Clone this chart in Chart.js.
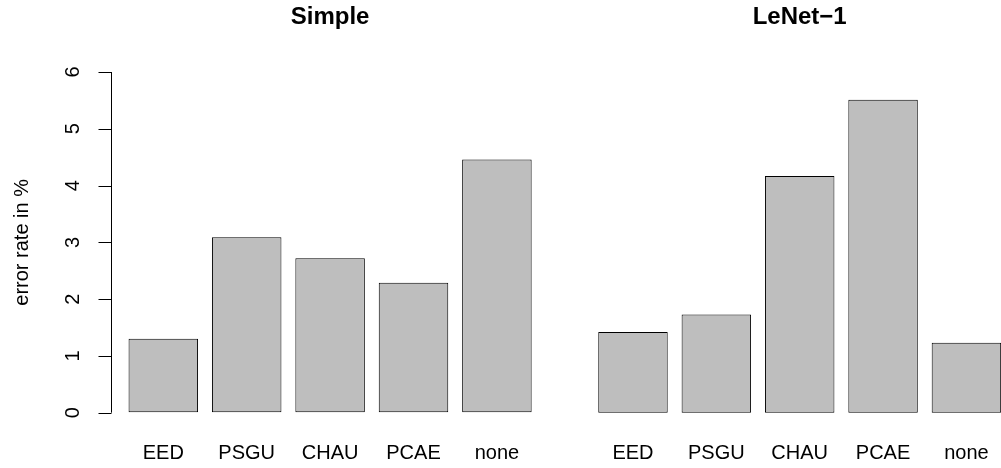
<!DOCTYPE html>
<html>
<head>
<meta charset="utf-8">
<script src="https://cdn.jsdelivr.net/npm/chart.js@4"></script>
<style>
    html, body { margin: 0; padding: 0; background: #fff; overflow: hidden; }
    #wrap { position: relative; width: 1001px; height: 468px; overflow: hidden; }
    canvas { position: absolute; top: 0; }
    #simpleChart { left: 0; }
    #lenetChart { left: 560px; }
</style>
</head>
<body>
<div id="wrap">
    <canvas id="simpleChart" width="560" height="468"></canvas>
    <canvas id="lenetChart" width="470" height="468"></canvas>
</div>
<script>
// data
const methods = ['EED', 'PSGU', 'CHAU', 'PCAE', 'none'];
const simpleErr = [1.30, 3.09, 2.72, 2.29, 4.46];
const lenetErr = [1.42, 1.73, 4.17, 5.51, 1.23];
const yTicks = [0, 1, 2, 3, 4, 5, 6];
const yMin = -0.24;
const yMax = 6.24;

Chart.defaults.font.family = '"Liberation Sans", Arial, Helvetica, sans-serif';
Chart.defaults.color = '#000';

// R style axis: line only from first to last tick, ticks pointing outwards
const rAxis = {
    id: 'rAxis',
    afterDraw(chart) {
        const y = chart.scales.y;
        const ctx = chart.ctx;
        const x = 111.5;
        ctx.save();
        ctx.strokeStyle = '#000';
        ctx.lineWidth = 1;
        ctx.beginPath();
        ctx.moveTo(x, y.getPixelForValue(yTicks[0]));
        ctx.lineTo(x, y.getPixelForValue(yTicks[yTicks.length - 1]));
        yTicks.forEach(v => {
            const py = Math.round(y.getPixelForValue(v)) + 0.5;
            ctx.moveTo(x, py);
            ctx.lineTo(x - 13, py);
        });
        ctx.stroke();
        ctx.restore();
    }
};

function makeChart(canvasId, title, values, withAxis) {
    const yScale = {
        min: yMin,
        max: yMax,
        display: withAxis
    };
    if (withAxis) {
        Object.assign(yScale, {
            border: { display: false },
            grid: { drawOnChartArea: false, drawTicks: true, tickLength: 36, color: 'rgba(0,0,0,0)' },
            ticks: { font: { size: 20 }, color: '#000', minRotation: 90, maxRotation: 90, crossAlign: 'center', padding: 6.7 },
            title: { display: true, text: 'error rate in %', font: { size: 20 }, color: '#000', padding: { top: 10, bottom: 0 } },
            afterBuildTicks: s => { s.ticks = yTicks.map(v => ({ value: v })); },
            afterFit: s => { s.width = 121.6; }
        });
    }

    return new Chart(document.getElementById(canvasId), {
        type: 'bar',
        data: {
            labels: methods,
            datasets: [{
                data: values,
                backgroundColor: '#bebebe',
                borderColor: '#000',
                borderWidth: 1,
                borderSkipped: false,
                barPercentage: 1 / 1.2,
                categoryPercentage: 1
            }]
        },
        options: {
            responsive: false,
            animation: false,
            devicePixelRatio: 1,
            layout: { padding: withAxis ? { left: 0, right: 21.4 } : { left: 31.3, right: 21.9 } },
            plugins: {
                legend: { display: false },
                tooltip: { enabled: false },
                title: {
                    display: true,
                    text: title,
                    fullSize: false,
                    color: '#000',
                    font: { size: 24, weight: 'bold' },
                    padding: { top: 2.6, bottom: 27 }
                }
            },
            scales: {
                x: {
                    grid: { display: false, drawTicks: false },
                    border: { display: false },
                    ticks: { font: { size: 20 }, color: '#000', padding: 15, maxRotation: 0, autoSkip: false },
                    afterFit: s => { s.height = 41.7; }
                },
                y: yScale
            }
        },
        plugins: withAxis ? [rAxis] : []
    });
}

document.addEventListener('DOMContentLoaded', function () {
    makeChart('simpleChart', 'Simple', simpleErr, true);
    makeChart('lenetChart', 'LeNet\u22121', lenetErr, false);
});
</script>
</body>
</html>
